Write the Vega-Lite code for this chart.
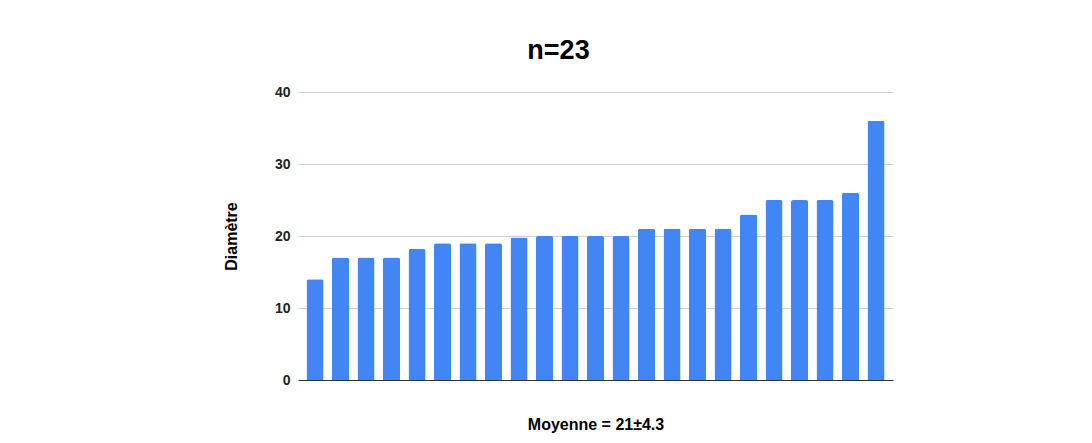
{
  "$schema": "https://vega.github.io/schema/vega-lite/v6.json",
  "autosize": {"type": "none"},
  "width": 595,
  "height": 288,
  "padding": {"left": 298, "top": 92, "right": 199, "bottom": 63},
  "background": "white",
  "config": {
    "font": "Liberation Sans",
    "view": {"stroke": null}
  },
  "title": {
    "text": "n=23",
    "fontSize": 27,
    "fontWeight": "bold",
    "color": "#000000",
    "anchor": "middle",
    "dx": -37,
    "offset": 20
  },
  "data": {
    "values": [
      {"i": 1, "d": 14},
      {"i": 2, "d": 17},
      {"i": 3, "d": 17},
      {"i": 4, "d": 17},
      {"i": 5, "d": 18.2},
      {"i": 6, "d": 19},
      {"i": 7, "d": 19},
      {"i": 8, "d": 19},
      {"i": 9, "d": 19.8},
      {"i": 10, "d": 20},
      {"i": 11, "d": 20},
      {"i": 12, "d": 20},
      {"i": 13, "d": 20},
      {"i": 14, "d": 21},
      {"i": 15, "d": 21},
      {"i": 16, "d": 21},
      {"i": 17, "d": 21},
      {"i": 18, "d": 23},
      {"i": 19, "d": 25},
      {"i": 20, "d": 25},
      {"i": 21, "d": 25},
      {"i": 22, "d": 26},
      {"i": 23, "d": 36}
    ]
  },
  "mark": {"type": "bar", "color": "#4285F4", "cornerRadiusTopLeft": 2, "cornerRadiusTopRight": 2},
  "encoding": {
    "x": {
      "field": "i",
      "type": "ordinal",
      "scale": {"paddingInner": 0.333, "paddingOuter": 0.333},
      "axis": {
        "title": "Moyenne = 21±4.3",
        "titleFontSize": 16,
        "titleFontWeight": "bold",
        "titleColor": "#000000",
        "titlePadding": 36,
        "labels": false,
        "ticks": false,
        "domainColor": "#333333",
        "domainWidth": 1
      }
    },
    "y": {
      "field": "d",
      "type": "quantitative",
      "scale": {"domain": [0, 40]},
      "axis": {
        "title": "Diamètre",
        "titleFontSize": 16,
        "titleFontWeight": "bold",
        "titleColor": "#000000",
        "titlePadding": 35,
        "values": [0, 10, 20, 30, 40],
        "labelFontSize": 14,
        "labelFontWeight": "bold",
        "labelColor": "#222222",
        "labelPadding": 8,
        "ticks": false,
        "domain": false,
        "gridColor": "#d0d0d0",
        "gridWidth": 1
      }
    }
  }
}
